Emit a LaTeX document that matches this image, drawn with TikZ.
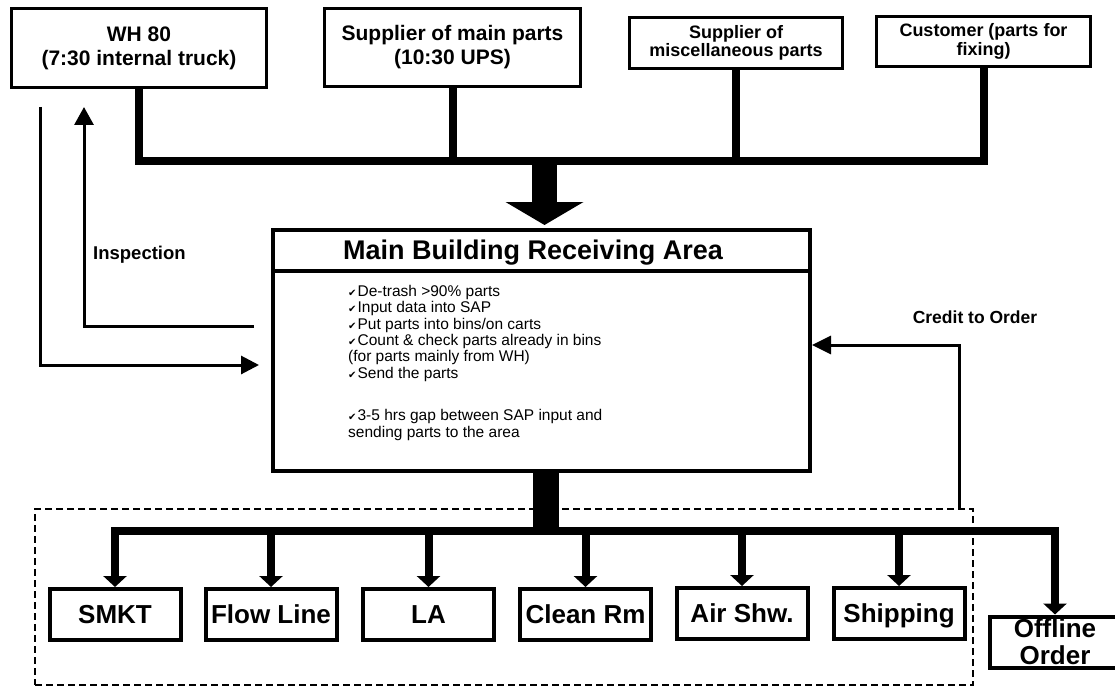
\documentclass[tikz,border=0pt]{standalone}
\usepackage{fontspec}
\setmainfont{Liberation Sans}
\newfontfamily\symfont{DejaVu Sans}
\usetikzlibrary{arrows.meta}

% small check mark in front of each task
\newcommand{\tickmark}{{\symfont\fontsize{10}{10}\selectfont ✔}\hspace{1pt}}

\begin{document}
\begin{tikzpicture}[x=1pt,y=-1pt,
  every node/.style={inner sep=0pt},
  src/.style={draw, line width=3.5pt, align=center,
    font=\bfseries\fontsize{21}{24}\selectfont},
  srcsm/.style={src, font=\bfseries\fontsize{18}{18.5}\selectfont},
  area/.style={draw, line width=4pt, minimum width=131pt, minimum height=51pt,
    font=\bfseries\fontsize{26}{27}\selectfont, text height=18.6pt, text depth=0pt},
  trunk/.style={line width=8pt, line join=miter},
  feed/.style={line width=8pt, line join=miter},
  feedtip/.style={feed, -{Triangle[width=23pt,length=11pt]}},
  thinflow/.style={line width=3pt, line join=miter},
  tasks/.style={anchor=base west, align=left,
    font=\fontsize{15.5}{16.3}\selectfont},
  remark/.style={font=\bfseries\fontsize{18.5}{20}\selectfont}
]
\fill[white] (0,0) rectangle (1115,687);
\useasboundingbox (0,0) rectangle (1115,687);

% sources of parts
\node[src, minimum width=255pt, minimum height=79pt] (wh) at (139,48)
  {WH 80\\(7:30 internal truck)};
\node[src, minimum width=256pt, minimum height=78pt] (supm) at (452.5,47.5)
  {Supplier of main parts\\(10:30 UPS)};
\node[srcsm, minimum width=213pt, minimum height=51pt] (misc) at (736,43)
  {Supplier of\\miscellaneous parts};
\node[srcsm, minimum width=214pt, minimum height=50pt] (cust) at (983.5,41.5)
  {Customer (parts for\\fixing)};

% receiving area
\node[draw, line width=4pt, minimum width=537pt, minimum height=241pt] (main) at (541.5,350.5) {};
\draw[line width=4pt] (main.west |- 0,271) -- (main.east |- 0,271);
\node[font=\bfseries\fontsize{27}{30}\selectfont, text height=19.3pt, text depth=0pt]
  (title) at (533,249.5) {Main Building Receiving Area};
% multi-line nodes: the base anchor sits on the last line
\node[tasks] (steps) at (348,378) {%
  \tickmark De-trash >90\% parts\\
  \tickmark Input data into SAP\\
  \tickmark Put parts into bins/on carts\\
  \tickmark Count \& check parts already in bins\\
  (for parts mainly from WH)\\
  \tickmark Send the parts};
\node[tasks] (gap) at (348,437) {%
  \tickmark 3-5 hrs gap between SAP input and\\
  sending parts to the area};

% side labels
\node[remark, anchor=base west] (insp) at (93,259) {Inspection};
\node[remark, anchor=base, font=\bfseries\fontsize{17.5}{18}\selectfont] (credit) at (975,323) {Credit to Order};

% destination zone
\node[draw, line width=1.5pt, dash pattern=on 7pt off 4pt,
  minimum width=938pt, minimum height=176pt] (zone) at (504,597) {};

% destinations
\node[area] (smkt)  at (115,614.5)   {SMKT};
\node[area] (flow)  at (271,614.5)   {Flow Line};
\node[area] (la)    at (428.5,614.5) {LA};
\node[area] (clean) at (585.5,614.5) {Clean Rm};
\node[area] (air)   at (742,613.5)   {Air Shw.};
\node[area] (ship)  at (899,613.5)   {Shipping};
\node[draw, line width=4pt, minimum width=131pt, minimum height=51pt, align=center,
  font=\bfseries\fontsize{26}{27}\selectfont] (offline) at (1055,642) {Offline\\Order};

% incoming trunk
\coordinate (topbus) at (0,161);
\coordinate (lowbus) at (0,531);
\draw[trunk] (wh.south) -- (wh.south |- topbus) -- (cust.south |- topbus) -- (cust.south);
\draw[trunk] (supm.south) -- (supm.south |- topbus);
\draw[trunk] (misc.south) -- (misc.south |- topbus);
\coordinate (inlet) at ([xshift=3pt]main.north);
\draw[line width=25pt, shorten >=3pt, -{Triangle[width=77pt,length=23pt]}]
  (inlet |- topbus) -- (inlet);

% outgoing distribution
\coordinate (outlet) at ([xshift=4pt]main.south);
\draw[line width=26pt] (outlet) -- (outlet |- lowbus);
\draw[feed, {Triangle[width=23pt,length=11pt]}-{Triangle[width=23pt,length=11pt]}]
  (smkt.north) -- (smkt.north |- lowbus) -- (offline.north |- lowbus) -- (offline.north);
\foreach \n in {flow,la,clean,air,ship}
  \draw[feedtip] (\n.north |- lowbus) -- (\n.north);

% inspection loop
\coordinate (inspOut) at (254,326);
\coordinate (inspTop) at (84,107);
\draw[thinflow, -{Triangle[width=19pt,length=18pt]}] (inspOut) -| (inspTop);
\coordinate (inspFoot) at (40,107);
\coordinate (inspIn) at (259,365);
\draw[thinflow, -{Triangle[width=18pt,length=18pt]}] (inspFoot) |- (inspIn);

% credit back to order
\coordinate (credFoot) at (959,509);
\draw[thinflow, -{Triangle[width=18pt,length=19pt]}] (credFoot) |- (main.east |- 0,345);
\end{tikzpicture}
\end{document}
